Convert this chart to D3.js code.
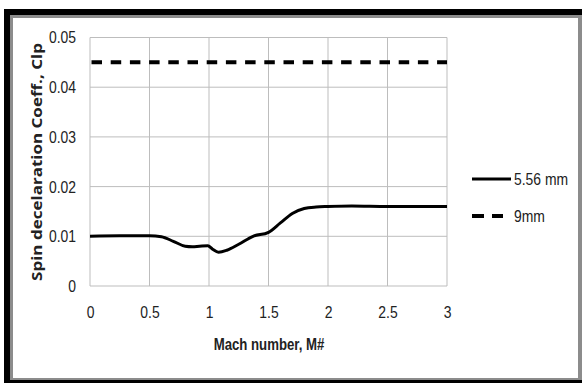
<!DOCTYPE html>
<html>
<head>
<meta charset="utf-8">
<script src="https://cdn.jsdelivr.net/npm/d3@7"></script>
<style>
  body { margin: 0; background: #fff; }
  text { font-family: 'Liberation Sans', Arial, sans-serif; fill: #222; }
</style>
</head>
<body>
<svg id="chart"></svg>
<script>
/* global d3 */
const width = 582
const height = 383
const margin = { top: 37.5, bottom: 97, left: 90, right: 135 }
const squeeze = 0.82 // the original text is a narrow face

// Mach numbers and Clp values
const mach556 = [0, 0.25, 0.5, 0.6, 0.7, 0.8, 0.86, 0.92, 0.99, 1.03, 1.08, 1.15, 1.25, 1.37, 1.5, 1.6, 1.7, 1.8, 1.9, 2.0, 2.2, 2.5, 3.0]
const clp556 = [0.0100, 0.0101, 0.0101, 0.0099, 0.0090, 0.0080, 0.0079, 0.0080, 0.0081, 0.0074, 0.0068, 0.0072, 0.0084, 0.0100, 0.0108, 0.0127, 0.0146, 0.0156, 0.0159, 0.0160, 0.0161, 0.0160, 0.0160]
const mach9 = [0, 3]
const clp9 = [0.045, 0.045]

const xTicks = [0, 0.5, 1, 1.5, 2, 2.5, 3]
const yTicks = [0, 0.01, 0.02, 0.03, 0.04, 0.05]
const seriesNames = ['5.56 mm', '9mm']

const svg = d3.select('#chart').attr('width', width).attr('height', height)

/** Frame around the figure */
svg.append('rect').attr('x', 4).attr('y', 9).attr('width', 600).attr('height', 400).attr('fill', '#000')
svg.append('rect').attr('x', 10).attr('y', 15).attr('width', 600).attr('height', 365).attr('fill', '#8c8c8c')
svg.append('rect').attr('x', 13).attr('y', 18).attr('width', 565).attr('height', 360).attr('fill', '#fff')

const xScale = d3.scaleLinear().domain([0, 3]).range([margin.left, width - margin.right])
const yScale = d3.scaleLinear().domain([0, 0.05]).range([height - margin.bottom, margin.top])

/** Grid lines */
svg.append('g')
  .selectAll('line')
  .data(xTicks)
  .join('line')
  .attr('x1', d => xScale(d)).attr('x2', d => xScale(d))
  .attr('y1', yScale(0)).attr('y2', yScale(0.05))
  .attr('stroke', '#bdbdbd').attr('stroke-width', 1)

svg.append('g')
  .selectAll('line')
  .data(yTicks)
  .join('line')
  .attr('x1', xScale(0)).attr('x2', xScale(3))
  .attr('y1', d => yScale(d)).attr('y2', d => yScale(d))
  .attr('stroke', '#bdbdbd').attr('stroke-width', 1)

/** Axes (labels only) */
const xAxis = d3.axisBottom(xScale).tickValues(xTicks).tickFormat(d => d).tickSize(0).tickPadding(20)
const yAxis = d3.axisLeft(yScale).tickValues(yTicks).tickFormat(d => d).tickSize(0).tickPadding(14)

svg.append('g')
  .attr('transform', `translate(0, ${yScale(0)})`)
  .call(xAxis)
  .call(g => g.select('.domain').remove())
  .call(g => g.selectAll('text')
    .attr('font-size', 17).attr('font-family', null)
    .attr('transform', `scale(${squeeze},1)`))

svg.append('g')
  .attr('transform', `translate(${xScale(0)}, 0)`)
  .call(yAxis)
  .call(g => g.select('.domain').remove())
  .call(g => g.selectAll('text')
    .attr('font-size', 17).attr('font-family', null)
    .attr('x', -14 / squeeze)
    .attr('transform', `scale(${squeeze},1)`))

/** Series */
const line = d3.line()
  .x(d => xScale(d[0]))
  .y(d => yScale(d[1]))
  .curve(d3.curveMonotoneX)

svg.append('path')
  .datum(d3.zip(mach556, clp556))
  .attr('d', line)
  .attr('fill', 'none')
  .attr('stroke', '#000')
  .attr('stroke-width', 3)

svg.append('path')
  .datum(d3.zip(mach9, clp9))
  .attr('d', line)
  .attr('fill', 'none')
  .attr('stroke', '#000')
  .attr('stroke-width', 4)
  .attr('stroke-dasharray', '10.5,8.7')
  .attr('stroke-dashoffset', -1.5)

/** Axis titles */
svg.append('text')
  .attr('transform', `translate(269, 350) scale(0.8,1)`)
  .attr('text-anchor', 'middle')
  .attr('font-size', 16.5)
  .attr('font-weight', 'bold')
  .text('Mach number, M#')

svg.append('text')
  .attr('transform', `translate(42, 162) rotate(-90) scale(1,${squeeze})`)
  .attr('text-anchor', 'middle')
  .style('font-family', "'Open Sans', sans-serif")
  .attr('font-size', 17)
  .attr('font-weight', 'bold')
  .text('Spin decelaration Coeff., Clp')

/** Legend */
const legend = svg.append('g')
const legendY = [179, 216]
legend.selectAll('line')
  .data(seriesNames)
  .join('line')
  .attr('x1', 472).attr('x2', (d, i) => i === 0 ? 511 : 503)
  .attr('y1', (d, i) => legendY[i]).attr('y2', (d, i) => legendY[i])
  .attr('stroke', '#000')
  .attr('stroke-width', (d, i) => i === 0 ? 3 : 4)
  .attr('stroke-dasharray', (d, i) => i === 0 ? null : '12,8')

legend.selectAll('text')
  .data(seriesNames)
  .join('text')
  .attr('transform', (d, i) => `translate(514, ${legendY[i]}) scale(${squeeze},1)`)
  .attr('dy', '0.35em')
  .attr('font-size', 17)
  .text(d => d)
</script>
</body>
</html>
